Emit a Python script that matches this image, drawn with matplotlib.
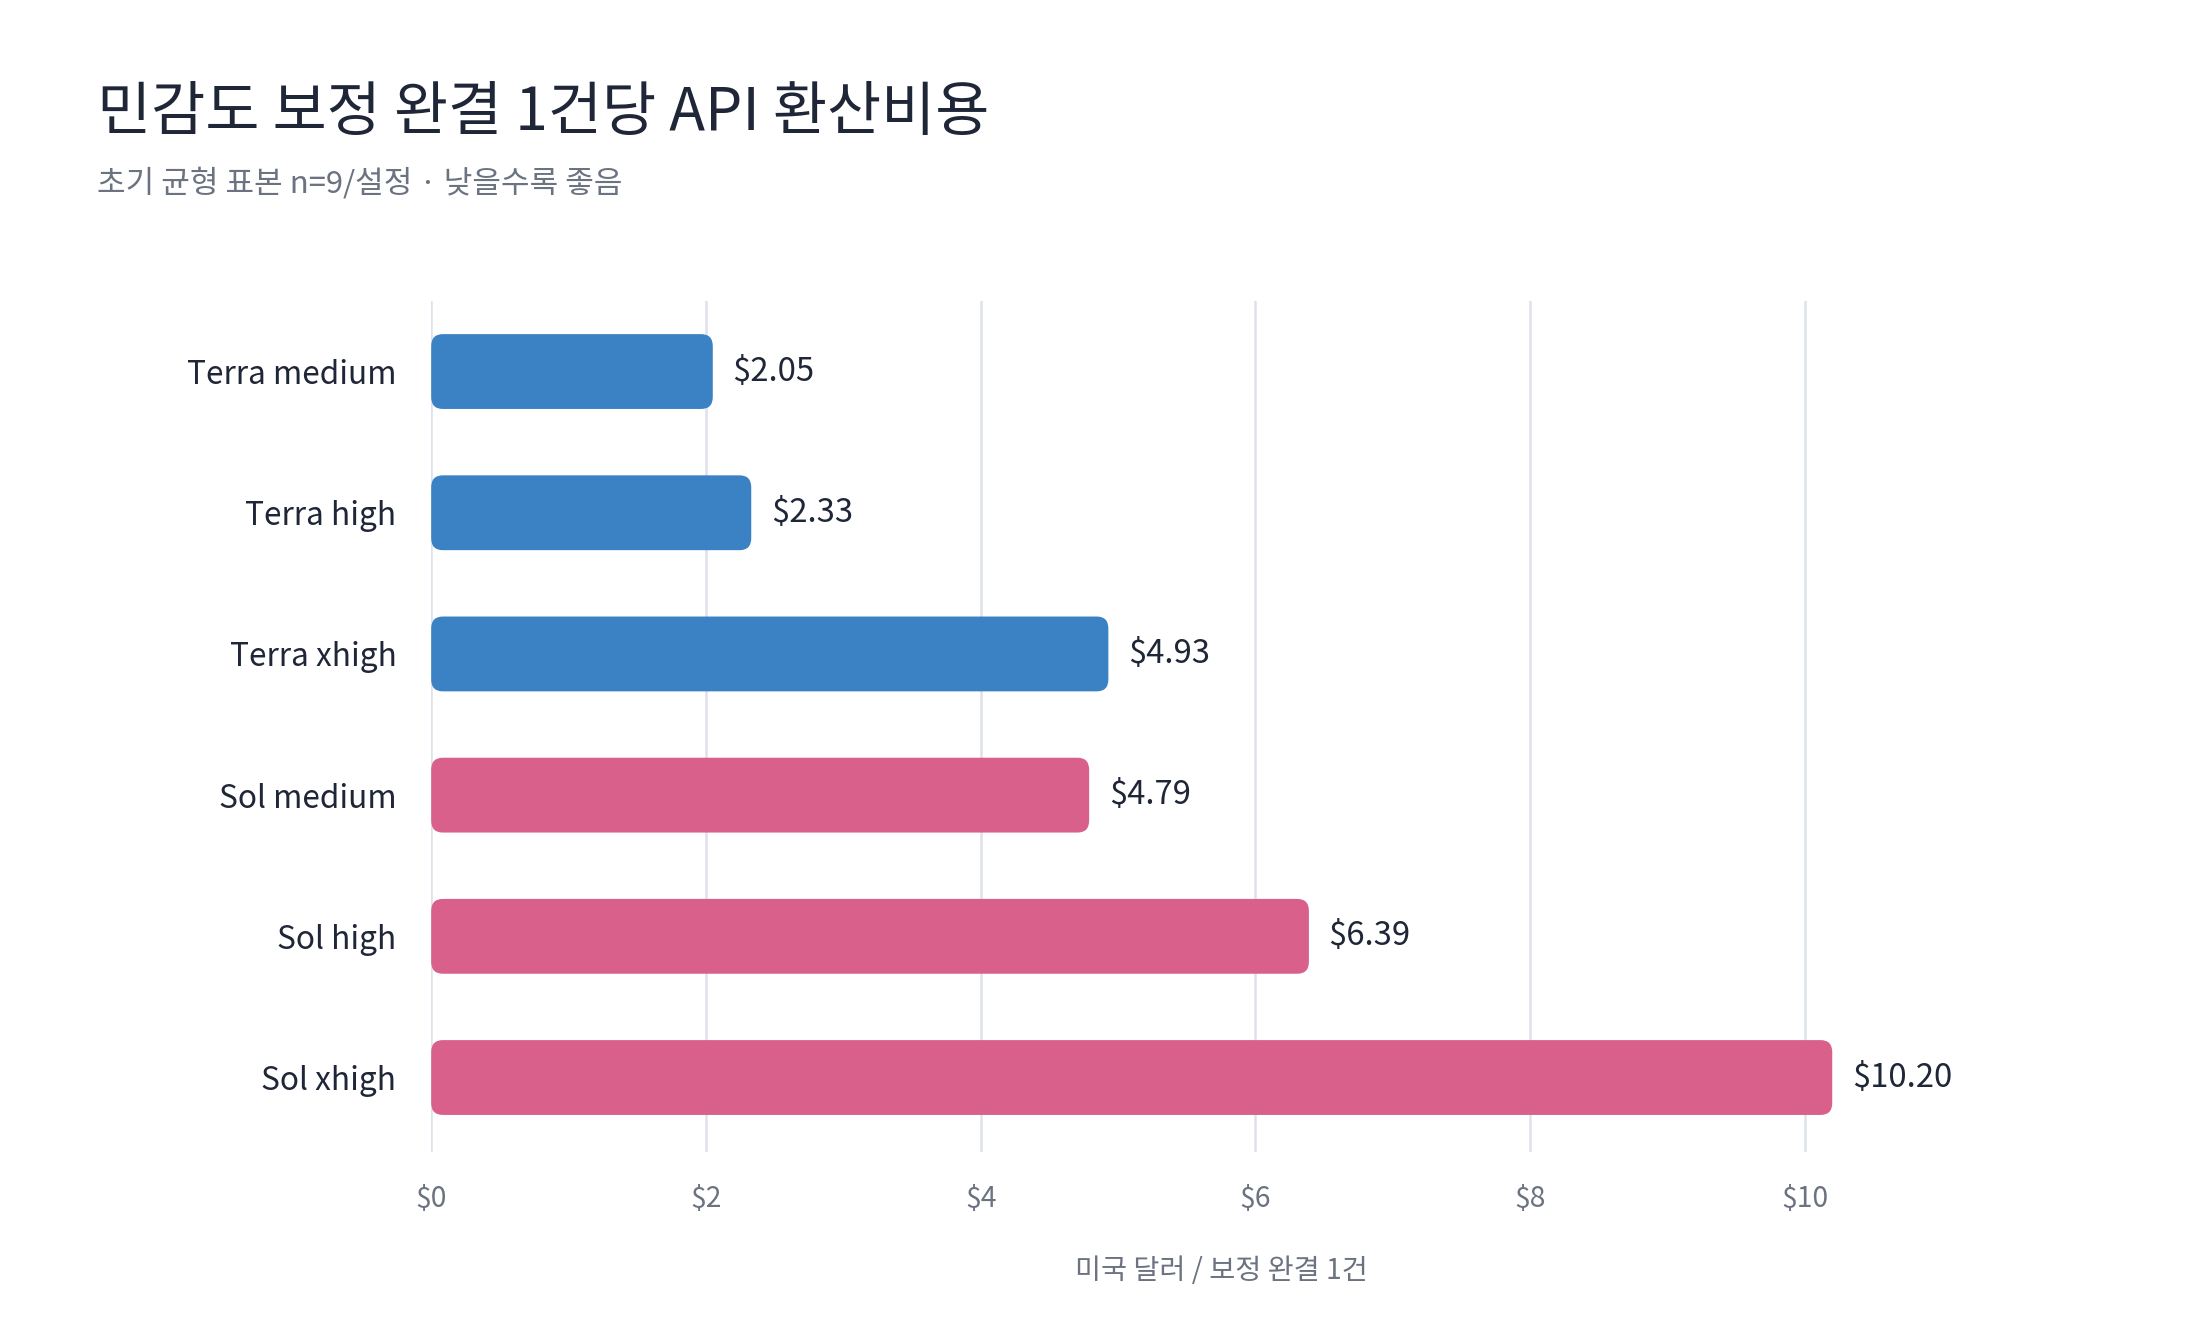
import numpy as np
import matplotlib
matplotlib.use("Agg")
import matplotlib.pyplot as plt
from matplotlib.patches import FancyBboxPatch

plt.rcParams['font.family'] = ['Noto Sans CJK KR', 'DejaVu Sans']

# data
labels = ["Terra medium", "Terra high", "Terra xhigh", "Sol medium", "Sol high", "Sol xhigh"]
costs = [2.05, 2.33, 4.93, 4.79, 6.39, 10.20]
groups = ["Terra", "Terra", "Terra", "Sol", "Sol", "Sol"]
xticks = [0, 2, 4, 6, 8, 10]

colors = {"Terra": "#3b82c4", "Sol": "#d8608a"}
text_dark = "#1f2637"
text_gray = "#6b7280"
grid_col = "#dde1ea"

fig = plt.figure(figsize=(11, 6.6), dpi=200)
ax = fig.add_axes([0.196, 0.127, 0.718, 0.645])

y = np.arange(len(labels))
bar_h = 0.53
for yi, v, g in zip(y, costs, groups):
    patch = FancyBboxPatch((0, yi - bar_h / 2), v, bar_h,
                           boxstyle="round,pad=0,rounding_size=0.085",
                           facecolor=colors[g], edgecolor="none", zorder=3)
    ax.add_patch(patch)
    ax.annotate(f"${v:.2f}", xy=(v, yi), xytext=(7, 0), textcoords="offset points",
                ha="left", va="center", fontsize=11.8, color=text_dark)

ax.set_xlim(0, 11.5)
ax.set_ylim(5.53, -0.5)
ax.set_yticks(y)
ax.set_yticklabels(labels, fontsize=11.4, color=text_dark)
ax.set_xticks(xticks)
ax.set_xticklabels([f"${t}" for t in xticks], fontsize=10.2, color=text_gray)
ax.tick_params(axis="y", length=0, pad=12.5)
ax.tick_params(axis="x", length=0, pad=11.5)
ax.xaxis.grid(True, color=grid_col, linewidth=0.9, zorder=0)
ax.set_axisbelow(True)
for s in ax.spines.values():
    s.set_visible(False)

ax.set_xlabel("미국 달러 / 보정 완결 1건", fontsize=10.2, color=text_gray, labelpad=15)

fig.text(0.044, 0.914, "민감도 보정 완결 1건당 API 환산비용", fontsize=21.2,
         color=text_dark, ha="left", va="center")
fig.text(0.044, 0.861, "초기 균형 표본 n=9/설정 · 낮을수록 좋음", fontsize=11.2,
         color=text_gray, ha="left", va="center")

fig.savefig("out.png", dpi=200, facecolor="white")
